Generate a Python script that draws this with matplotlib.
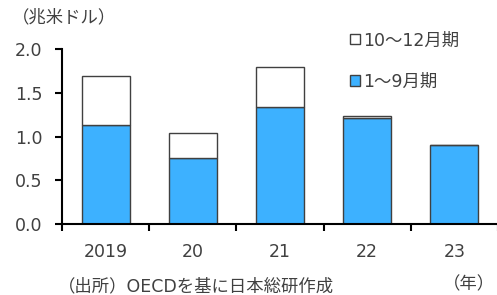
import matplotlib
matplotlib.use("Agg")
import matplotlib.pyplot as plt
import numpy as np

plt.rcParams['font.family'] = ['DejaVu Sans', 'Noto Sans CJK JP']

years = ["2019", "20", "21", "22", "23"]
jan_sep = [1.13, 0.75, 1.34, 1.21, 0.90]
oct_dec = [0.56, 0.29, 0.45, 0.03, 0.0]

BLUE = "#3DB1FF"
EDGE = "#404040"
TXT = "#404040"

fig = plt.figure(figsize=(4.97, 2.95), dpi=100)
ax = fig.add_axes([62/497, 1-224/295, 436/497, 175/295])

x = np.arange(len(years))
w = 0.55
ax.bar(x, jan_sep, width=w, color=BLUE, edgecolor=EDGE, linewidth=1.0, label="1～9月期", zorder=2)
ax.bar(x, oct_dec, width=w, bottom=jan_sep, color="white", edgecolor=EDGE, linewidth=1.0,
       label="10～12月期", zorder=2)

ax.set_xlim(-0.5, len(years) - 0.5)
ax.set_ylim(0, 2.0)
ax.set_yticks([0, 0.5, 1.0, 1.5, 2.0])
ax.set_yticklabels([f"{v:.1f}" for v in [0, 0.5, 1.0, 1.5, 2.0]])
ax.set_xticks(x)
ax.set_xticklabels(years)
ax.set_xticks(np.arange(-0.5, len(years)), minor=True)
ax.tick_params(axis="x", which="major", length=0, pad=14, labelsize=12.5, labelcolor=TXT)
ax.tick_params(axis="x", which="minor", length=5, width=1.5, direction="out")
ax.tick_params(axis="y", length=5, width=1.5, direction="out", pad=9, labelsize=12.5, labelcolor=TXT)

for s in ["top", "right"]:
    ax.spines[s].set_visible(False)
for s in ["left", "bottom"]:
    ax.spines[s].set_linewidth(1.5)
    ax.spines[s].set_color("black")

h, l = ax.get_legend_handles_labels()
leg = ax.legend(h[::-1], l[::-1], loc="upper left", bbox_to_anchor=(0.625, 1.19),
                frameon=False, fontsize=12.5, handlelength=0.55, handleheight=0.55,
                handletextpad=0.2, labelspacing=1.35, labelcolor=TXT)

fig.text(12/497, 1-17/295, "（兆米ドル）", fontsize=12.5, color=TXT, va="center", ha="left")
fig.text(495/497, 1-284/295, "（年）", fontsize=12.5, color=TXT, va="center", ha="right")
fig.text(58/497, 1-286/295, "（出所）OECDを基に日本総研作成", fontsize=12.5, color=TXT,
         va="center", ha="left")

fig.savefig("out.png", dpi=100)
